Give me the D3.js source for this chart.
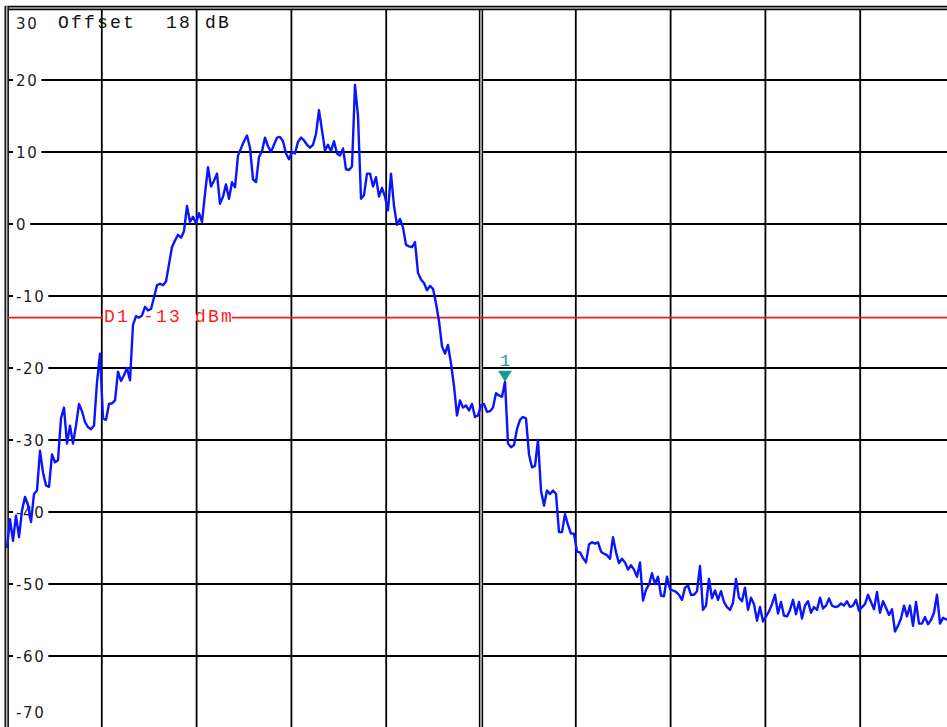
<!DOCTYPE html>
<html lang="en">
<head>
<meta charset="UTF-8">
<title>Spectrum</title>
<style>
    body { margin: 0; background: #ffffff; }
    svg { display: block; }
</style>
</head>
<body>
<script src="https://d3js.org/d3.v7.min.js"></script>

<div id="my_data"></div>

<script type="text/javascript">

    // trace level in dB, one value per sweep point
    var levels = [
        -45, -41, -44, -40.5, -43.5, -39.8, -37.9, -39, -41.4, -37.5,
        -37, -31.5, -34.5, -36.3, -36.5, -32, -33.1, -32.8, -27, -25.5,
        -30.5, -28, -30.5, -28, -25, -26, -27.5, -28.2, -28.5, -28,
        -22, -18, -27, -27.2, -25, -24.9, -24.5, -20.5, -21.8, -21,
        -20, -21.7, -14, -12.8, -13, -12.7, -11.5, -12, -11.8, -10.2,
        -8.5, -8.3, -8.5, -8, -5.6, -3.2, -2.3, -1.5, -1.9, -1.0,
        2.5, 0.3, 1.0, 0.1, 1.5, 0.3, 4.2, 7.9, 5.2, 6.0,
        7.0, 2.8, 3.8, 5.5, 3.5, 5.8, 5.1, 9.5, 10.5, 11.5,
        12.3, 10.6, 6.2, 5.8, 9.3, 10.1, 12, 10.8, 10, 11,
        12, 12.1, 11.5, 9.8, 9.0, 10, 9.8, 11.4, 12, 11.6,
        11, 10.6, 11, 12.5, 15.8, 13, 10.2, 11, 10.1, 11.5,
        9.8, 9.5, 10.5, 7.6, 7.5, 8.0, 19.3, 15, 3.5, 4.0,
        7.0, 7.0, 5.2, 6.5, 3.8, 5.0, 3.8, 1.9, 7.0, 2.5,
        -0.1, 0.7, -0.5, -2.9, -3.1, -3.2, -2.5, -6.8, -7.7, -8.2,
        -9.2, -8.6, -9.0, -11, -13.5, -17, -18, -16.8, -19.4, -22.5,
        -26.6, -24.5, -25.5, -25.2, -25.9, -25.0, -26.8, -26.6, -25.2, -25,
        -26.1, -26, -25.5, -23.5, -23.8, -24, -21.9, -30.5, -31, -30.7,
        -28.5, -27.2, -26.8, -27, -32, -33.8, -33.6, -30, -37, -39.1,
        -37, -37.5, -37.0, -37.5, -42.8, -42.8, -40.3, -41.8, -43, -43,
        -45.5, -45.6, -46.4, -47, -44.5, -44.2, -44.4, -44.2, -45.5, -45.8,
        -46, -46.5, -43.5, -45.6, -47.1, -46.5, -47, -48, -47.4, -48,
        -49, -47, -52.3, -50.8, -50.1, -48.5, -50, -49, -51.6, -51.7,
        -49, -50.7, -50.9, -51.1, -51.5, -52.2, -50.5, -50.2, -51.5, -51.5,
        -51, -47.5, -53.6, -53, -49.3, -52, -50.9, -52.2, -51, -52.5,
        -53.2, -53.6, -52.6, -49.3, -51.9, -52.4, -50.5, -53.6, -51.9, -52.8,
        -55.1, -53.2, -55.2, -54.5, -53.8, -52.8, -51.5, -54.1, -52.5, -54.4,
        -54.5, -53.6, -52.2, -54.2, -52.5, -54.8, -53, -52.4, -54, -53.2,
        -53.6, -51.9, -53.4, -53, -52, -53, -53.2, -53.1, -52.7, -53,
        -52.4, -53.2, -53, -52.2, -53.7, -53.2, -52.8, -51.5, -52.5, -53.5,
        -51.1, -54, -52.4, -53.3, -54.3, -53.5, -56.6, -55.8, -54.8, -53,
        -54.5, -53, -55.8, -52.5, -55.5, -55.5, -54.6, -55.6, -55, -54,
        -51.5, -55.5, -54.7, -54.9, -55, -54.5
    ];

    var sweepPoints = 316;
    var gridLevels = [20, 10, 0, -10, -20, -30, -40, -50, -60];
    var tickLabels = ["30", "20", "10", "0", "-10", "-20", "-30", "-40", "-50", "-60", "-70"];
    var tickValues = [30, 20, 10, 0, -10, -20, -30, -40, -50, -60, -70];
    var displayLine = -13;
    var displayLabel = "D1 -13 dBm";
    var offsetText = "Offset";
    var offsetValue = "18 dB";
    var markerPoint = 166;
    var markerName = "1";

    var width = 947,
        height = 727;

    var svg = d3
        .select("#my_data")
        .append("svg")
        .attr("width", width)
        .attr("height", height)
        .style("background", "#ffffff");

    var x = d3.scaleLinear().domain([0, sweepPoints]).range([7, 955]);
    var y = d3.scaleLinear().domain([-70, 30]).range([728, 8]);

    // vertical grid (10 divisions, center one doubled)
    var divisions = d3.range(1, 10).map(function(k) { return k * sweepPoints / 10; });

    svg.append("g")
        .selectAll("line")
        .data(divisions.filter(function(d, i) { return i !== 4; }))
        .enter()
        .append("line")
        .attr("x1", function(d) { return x(d); })
        .attr("x2", function(d) { return x(d); })
        .attr("y1", y(30))
        .attr("y2", height)
        .style("stroke", "#000")
        .style("stroke-width", 1.8);

    // horizontal grid
    svg.append("g")
        .selectAll("line")
        .data(gridLevels)
        .enter()
        .append("line")
        .attr("x1", x(0))
        .attr("x2", width)
        .attr("y1", function(d) { return y(d); })
        .attr("y2", function(d) { return y(d); })
        .style("stroke", "#000")
        .style("stroke-width", 1.8);

    // double lines: frame top, frame left, center
    function doubleLine(x1, y1, x2, y2, vertical) {
        var g = svg.append("g");
        g.append("line")
            .attr("x1", x1).attr("x2", x2).attr("y1", y1).attr("y2", y2)
            .style("stroke", "#b4b4b4")
            .style("stroke-width", 4);
        [-1.5, 1.5].forEach(function(o) {
            g.append("line")
                .attr("x1", vertical ? x1 + o : x1)
                .attr("x2", vertical ? x2 + o : x2)
                .attr("y1", vertical ? y1 : y1 + o)
                .attr("y2", vertical ? y2 : y2 + o)
                .style("stroke", "#000")
                .style("stroke-width", 1.3);
        });
    }
    doubleLine(x(divisions[4]), y(30), x(divisions[4]), height, true);
    doubleLine(x(0) - 2, y(30), width, y(30), false);
    doubleLine(x(0) - 0.3, y(30) - 2, x(0) - 0.3, height, true);

    // level labels with white boxes
    var labels = svg.append("g")
        .selectAll("g")
        .data(tickValues)
        .enter()
        .append("g");

    labels.append("text")
        .attr("x", 16)
        .attr("y", function(d) {
            if (d === 30) return y(d) + 21;
            if (d === -70) return y(d) - 10;
            return y(d) + 5.5;
        })
        .style("font-family", "DejaVu Sans")
        .style("font-size", "15px")
        .style("letter-spacing", "1.6px")
        .style("fill", "#1e1e1e")
        .text(function(d, i) { return tickLabels[i]; });

    labels.each(function(d) {
        if (d === 30 || d === -70) return;
        var g = d3.select(this);
        var b = g.select("text").node().getBBox();
        g.insert("rect", "text")
            .attr("x", 13)
            .attr("y", y(d) - 3)
            .attr("width", b.x + b.width - 13 + 3)
            .attr("height", 6)
            .style("fill", "#fff");
    });

    // offset info
    svg.append("text")
        .attr("x", 58)
        .attr("y", 28)
        .style("font-family", "Liberation Mono")
        .style("font-size", "18px")
        .style("letter-spacing", "2.2px")
        .style("fill", "#111")
        .text(offsetText);
    svg.append("text")
        .attr("x", 166)
        .attr("y", 28)
        .style("font-family", "Liberation Mono")
        .style("font-size", "18px")
        .style("letter-spacing", "2.2px")
        .style("fill", "#111")
        .text(offsetValue);

    // display line D1
    svg.append("line")
        .attr("x1", x(0))
        .attr("x2", width)
        .attr("y1", y(displayLine))
        .attr("y2", y(displayLine))
        .style("stroke", "#ff1a1a")
        .style("stroke-width", 1.8);

    var d1 = svg.append("g");
    var d1Text = d1.append("text")
        .attr("x", 104)
        .attr("y", y(displayLine) + 4.5)
        .style("font-family", "Liberation Mono")
        .style("font-size", "18px")
        .style("letter-spacing", "2.2px")
        .style("fill", "#ff2020")
        .text(displayLabel);
    var bb = d1Text.node().getBBox();
    d1.insert("rect", "text")
        .attr("x", 103)
        .attr("y", y(displayLine) - 3)
        .attr("width", bb.width - 1)
        .attr("height", 6)
        .style("fill", "#fff");

    // trace
    var line = d3.line()
        .x(function(d, i) { return x(i); })
        .y(function(d) { return y(d); });

    svg.append("path")
        .datum(levels)
        .attr("d", line)
        .style("fill", "none")
        .style("stroke", "#0a14ff")
        .style("stroke-width", 2.4)
        .style("stroke-linejoin", "round");

    // marker 1
    var mx = x(markerPoint),
        my = y(levels[markerPoint]);
    svg.append("path")
        .attr("d", "M" + (mx - 7) + "," + (my - 11) + "L" + (mx + 7) + "," + (my - 11) + "L" + mx + "," + my + "Z")
        .style("fill", "#179a94");
    svg.append("text")
        .attr("x", mx)
        .attr("y", my - 16)
        .attr("text-anchor", "middle")
        .style("font-family", "Liberation Mono")
        .style("font-size", "17px")
        .style("fill", "#179a94")
        .text(markerName);

</script>
</body>
</html>
